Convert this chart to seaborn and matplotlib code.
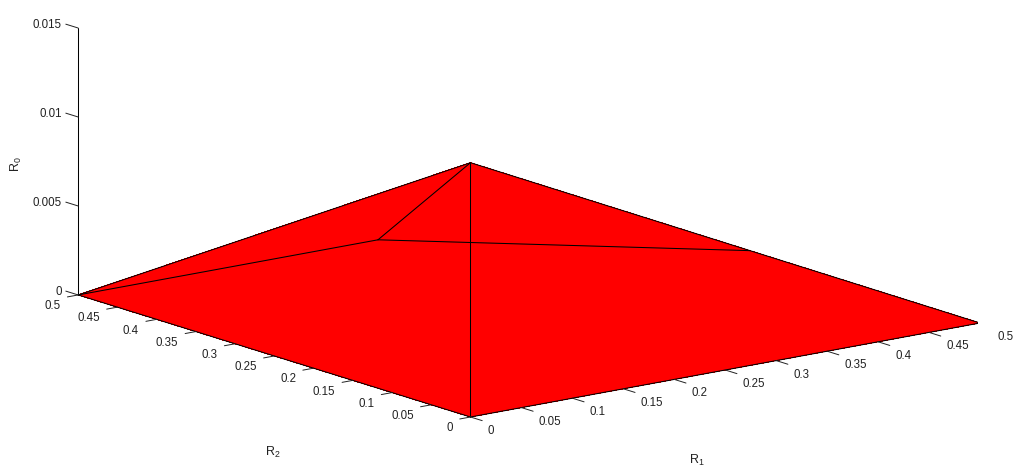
import matplotlib
matplotlib.use("Agg")
import matplotlib.pyplot as plt
import seaborn as sns
from mpl_toolkits.mplot3d import proj3d

# surface vertices: origin, R1 end, R2 end, peak, two inner mesh points
r1_pts = [0, 0.5, 0, 0, 0, 0.2743]
r2_pts = [0, 0, 0.5, 0, 0.1179, 0]
r0_pts = [0, 0, 0, 0.01429, 0.00834, 0.00645]
faces = [[0, 1, 3], [0, 2, 3]]
mesh_edges = [[2, 3], [3, 1], [0, 3], [3, 4], [4, 2], [4, 5]]

r1_ticks = [0, 0.05, 0.1, 0.15, 0.2, 0.25, 0.3, 0.35, 0.4, 0.45, 0.5]
r2_ticks = [0, 0.05, 0.1, 0.15, 0.2, 0.25, 0.3, 0.35, 0.4, 0.45, 0.5]
r0_ticks = [0, 0.005, 0.01, 0.015]
r1_labels = ["0", "0.05", "0.1", "0.15", "0.2", "0.25", "0.3", "0.35", "0.4", "0.45", "0.5"]
r2_labels = ["0", "0.05", "0.1", "0.15", "0.2", "0.25", "0.3", "0.35", "0.4", "0.45", "0.5"]
r0_labels = ["0", "0.005", "0.01", "0.015"]

sns.set_theme(style="white")
plt.rcParams["font.family"] = ["Liberation Sans", "DejaVu Sans"]
plt.rcParams["mathtext.default"] = "regular"

W, H = 1024, 477
fig = plt.figure(figsize=(W / 100, H / 100), dpi=100, facecolor="white")
ax = fig.add_subplot(projection="3d", proj_type="ortho", computed_zorder=False)
ax.view_init(elev=13.86, azim=-127.6)
ax.set_box_aspect((642.5, 642.5, 274.7))
ax.set_axis_off()

ink = "#222222"
fs = 8.3

ax.plot_trisurf(r1_pts, r2_pts, r0_pts, triangles=faces, color="#ff0000",
                shade=False, linewidth=0, antialiased=False, zorder=1)

for a, b in mesh_edges:
    ax.plot([r1_pts[a], r1_pts[b]], [r2_pts[a], r2_pts[b]], [r0_pts[a], r0_pts[b]],
            color="black", lw=0.75, zorder=2)

# axis lines
ax.plot([0, 0.5], [0, 0], [0, 0], color="black", lw=0.75, zorder=3)
ax.plot([0, 0], [0, 0.5], [0, 0], color="black", lw=0.75, zorder=3)
ax.plot([0, 0], [0.5, 0.5], [0, 0.015], color="black", lw=0.75, zorder=3)

# tick marks
for v in r1_ticks:
    ax.plot([v, v], [0, -0.0149], [0, 0], color=ink, lw=0.7, zorder=3)
for v in r2_ticks:
    ax.plot([0, -0.0105], [v, v], [0, 0], color=ink, lw=0.7, zorder=3)
for v in r0_ticks:
    ax.plot([0, 0], [0.5, 0.5157], [v, v], color=ink, lw=0.7, zorder=3)

ax.set_xlim(0, 0.5, view_margin=0)
ax.set_ylim(0, 0.5, view_margin=0)
ax.set_zlim(0, 0.015, view_margin=0)

# put the axes so the origin and R1 end land where they belong
M = ax.get_proj()
x0, y0, _ = proj3d.proj_transform(0, 0, 0, M)
x1, y1, _ = proj3d.proj_transform(0.5, 0, 0, M)
xl = ax.viewLim.intervalx
yl = ax.viewLim.intervaly
size = (980 - 470.5) / (x1 - x0) * (xl[1] - xl[0])
left = 470.5 - (x0 - xl[0]) / (xl[1] - xl[0]) * size
bottom = (H - 418) - (y0 - yl[0]) / (yl[1] - yl[0]) * size
ax.set_position([left / W, bottom / H, size / W, size / H])


def tick_label(r1, r2, r0, s, dx, dy, ha):
    px, py, _ = proj3d.proj_transform(r1, r2, r0, M)
    ax.annotate(s, xy=(px, py), xytext=(dx, dy), textcoords="offset pixels",
                ha=ha, va="center", fontsize=fs, color=ink, annotation_clip=False)


for v, lab in zip(r1_ticks, r1_labels):
    tick_label(v, 0, 0, lab, 17.5, -13, "left")
for v, lab in zip(r2_ticks, r2_labels):
    tick_label(0, v, 0, lab, -17.5, -10.3, "right")
for v, lab in zip(r0_ticks, r0_labels):
    tick_label(0, 0.5, v, lab, -16.3, 4.2, "right")

fig.text(697 / W, 1 - 460 / H, "$R_1$", ha="center", va="center", fontsize=9, color=ink)
fig.text(272.5 / W, 1 - 452 / H, "$R_2$", ha="center", va="center", fontsize=9, color=ink)
fig.text(16.5 / W, 1 - 164 / H, "$R_0$", ha="center", va="center", rotation=90, fontsize=9, color=ink)

fig.savefig("out.png", dpi=100)
